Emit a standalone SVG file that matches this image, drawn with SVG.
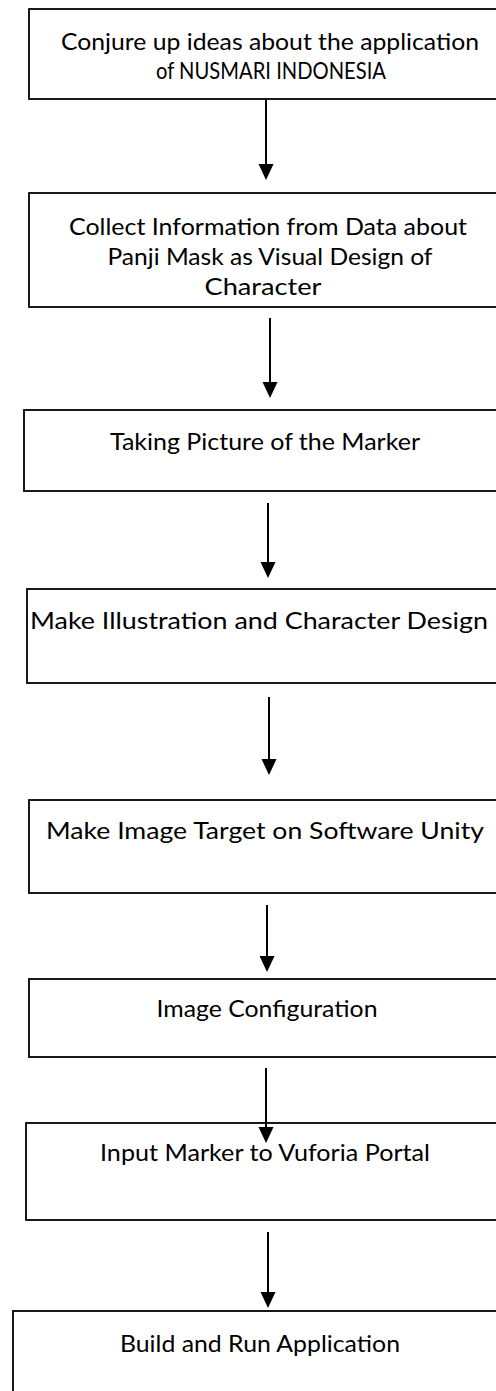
<svg xmlns="http://www.w3.org/2000/svg" width="496" height="1391" viewBox="0 0 496 1391">
<style>
.box{fill:#fff;stroke:#000;stroke-width:1.8}
.t{font-family:Lato,"Liberation Sans",sans-serif;font-size:23px;fill:#000;text-anchor:middle;dominant-baseline:central}
.ln{stroke:#000;stroke-width:2;fill:none}
.ah{fill:#000}
</style>
<rect width="496" height="1391" fill="#fff"/>
<g id="n1"><rect class="box" x="29" y="9" width="480" height="90"/>
<text class="t" x="270" y="41" textLength="418" lengthAdjust="spacingAndGlyphs">Conjure up ideas about the application</text>
<text class="t" x="271" y="70" textLength="230" lengthAdjust="spacingAndGlyphs">of NUSMARI INDONESIA</text></g>
<g id="n2"><rect class="box" x="29" y="193" width="480" height="114"/>
<text class="t" x="268" y="226" textLength="398" lengthAdjust="spacingAndGlyphs">Collect Information from Data about</text>
<text class="t" x="270" y="256" textLength="325" lengthAdjust="spacingAndGlyphs">Panji Mask as Visual Design of</text>
<text class="t" x="263" y="286" textLength="117" lengthAdjust="spacingAndGlyphs">Character</text></g>
<g id="n3"><rect class="box" x="24" y="410" width="485" height="81"/>
<text class="t" x="265" y="441" textLength="310" lengthAdjust="spacingAndGlyphs">Taking Picture of the Marker</text></g>
<g id="n4"><rect class="box" x="27" y="589" width="482" height="94"/>
<text class="t" x="259" y="620" textLength="458" lengthAdjust="spacingAndGlyphs">Make Illustration and Character Design</text></g>
<g id="n5"><rect class="box" x="29" y="800" width="480" height="93"/>
<text class="t" x="265" y="830" textLength="438" lengthAdjust="spacingAndGlyphs">Make Image Target on Software Unity</text></g>
<g id="n6"><rect class="box" x="29" y="979" width="480" height="78"/>
<text class="t" x="267" y="1008" textLength="221" lengthAdjust="spacingAndGlyphs">Image Configuration</text></g>
<g id="n7"><rect class="box" x="26" y="1123" width="483" height="97"/>
<text class="t" x="265" y="1152" textLength="330" lengthAdjust="spacingAndGlyphs">Input Marker to Vuforia Portal</text></g>
<g id="n8"><rect class="box" x="13" y="1311" width="496" height="100"/>
<text class="t" x="260" y="1343" textLength="280" lengthAdjust="spacingAndGlyphs">Build and Run Application</text></g>
<g id="connectors">
<line class="ln" x1="266" y1="100" x2="266" y2="166"/><polygon class="ah" points="258.5,164 273.5,164 266,180"/>
<line class="ln" x1="270" y1="318" x2="270" y2="384"/><polygon class="ah" points="262.5,382 277.5,382 270,398"/>
<line class="ln" x1="268" y1="503" x2="268" y2="564"/><polygon class="ah" points="260.5,562 275.5,562 268,578"/>
<line class="ln" x1="269" y1="697" x2="269" y2="761"/><polygon class="ah" points="261.5,759 276.5,759 269,775"/>
<line class="ln" x1="267" y1="905" x2="267" y2="958"/><polygon class="ah" points="259.5,956 274.5,956 267,972"/>
<line class="ln" x1="266" y1="1068" x2="266" y2="1129"/><polygon class="ah" points="258.5,1127 273.5,1127 266,1143"/>
<line class="ln" x1="268" y1="1232" x2="268" y2="1294"/><polygon class="ah" points="260.5,1292 275.5,1292 268,1308"/>
</g>
</svg>
